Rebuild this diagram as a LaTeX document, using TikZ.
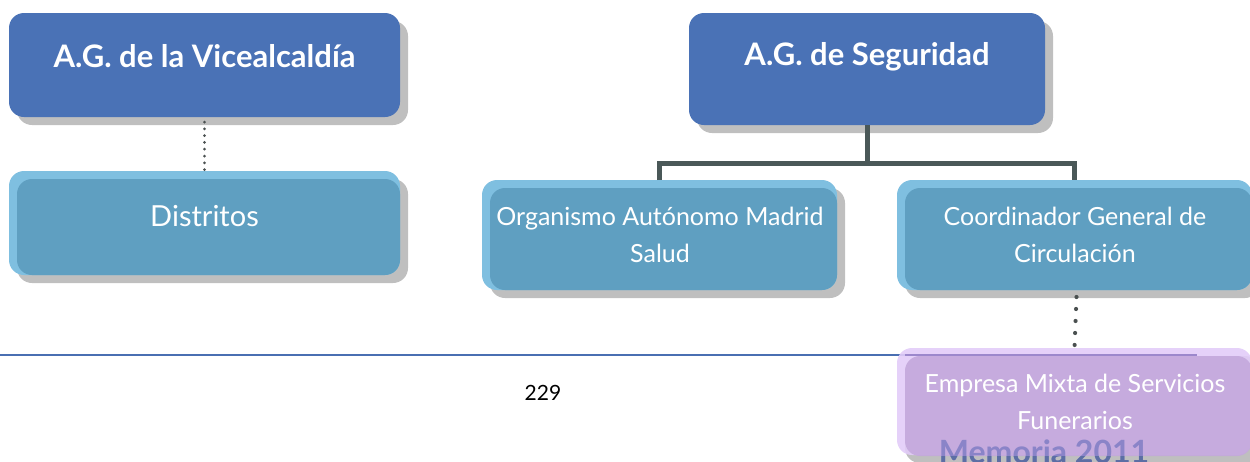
\documentclass[tikz,border=0pt]{standalone}
\usepackage{fontspec}
\setmainfont{Lato}
\usetikzlibrary{calc}
\definecolor{dblue}{HTML}{4A72B6}
\definecolor{lblue}{HTML}{7FBFE0}
\definecolor{mblue}{HTML}{5F9FC1}
\definecolor{shade}{HTML}{BFBFBF}
\definecolor{conn}{HTML}{4A5858}
\definecolor{dotc}{HTML}{4A5050}
\definecolor{plight}{HTML}{E2CCF8}
\definecolor{pdark}{HTML}{C4A8DC}
\definecolor{memc}{HTML}{8A84C8}
\definecolor{memd}{HTML}{5C6EA4}
\definecolor{rule}{HTML}{4A6FB2}
\definecolor{rulein}{HTML}{9C88CC}
\begin{document}
\begin{tikzpicture}[x=1pt,y=-1pt,
  shadowbox/.style={fill=shade,rounded corners=15pt},
  boxshape/.style={rounded corners=15pt,inner sep=0pt,outer sep=0pt,anchor=north west},
  headtxt/.style={text=white,font=\bfseries\fontsize{31}{34}\selectfont,inner sep=0pt},
  bodytxt/.style={text=white,font=\fontsize{25}{37}\selectfont,align=center,inner sep=0pt},
  memotxt/.style={font=\bfseries\fontsize{32}{34}\selectfont,anchor=base,inner sep=0pt},
  busline/.style={draw=conn,line width=5pt},
  dotline/.style={draw=dotc,line width=3pt,line cap=round,dash pattern=on 0pt off 6.8pt},
  bigdots/.style={draw=dotc,line width=4.2pt,line cap=round,dash pattern=on 0pt off 12pt}]
\useasboundingbox (0,0) rectangle (1250,461);

% footer rule and page number
\coordinate (ruleL) at (0,355);
\coordinate (ruleR) at (1197,355);
\draw[rule,line width=2pt] (ruleL) -- (ruleR);
\node[font=\fontsize{21}{24}\selectfont,inner sep=0pt] (page) at (543,393) {229};

% A.G. de la Vicealcaldia
\fill[shadowbox] (17,21) rectangle (408,125);
\node[boxshape,fill=dblue,minimum width=391pt,minimum height=104pt] (vice) at (9,13) {};
\node[headtxt] (vicet) at (204.5,56) {A.G. de la Vicealcaldía};

% Distritos
\fill[shadowbox] (17,179) rectangle (408,283);
\node[boxshape,fill=lblue,minimum width=391pt,minimum height=104pt] (dist) at (9,171) {};
\fill[mblue,rounded corners=15pt] (17,179) rectangle (400,275);
\node[text=white,font=\fontsize{29}{32}\selectfont,inner sep=0pt] (distt) at (204.5,216) {Distritos};
\draw[dotline] ($(vice.south)+(0,5)$) -- (dist.north);

% A.G. de Seguridad
\fill[shadowbox] (697,21) rectangle (1053,133);
\node[boxshape,fill=dblue,minimum width=356pt,minimum height=112pt] (segu) at (689,13) {};
\node[headtxt] (segut) at (867,57) {A.G. de Seguridad};

% Organismo
\fill[shadowbox] (490,188) rectangle (845,298);
\node[boxshape,fill=lblue,minimum width=355pt,minimum height=110pt] (org) at (482,180) {};
\fill[mblue,rounded corners=15pt] (490,188) rectangle (837,290);
\node[bodytxt] (orgt) at (660,235) {Organismo Autónomo Madrid\\Salud};

% Coordinador
\fill[shadowbox] (905,188) rectangle (1260,298);
\node[boxshape,fill=lblue,minimum width=355pt,minimum height=110pt] (coord) at (897,180) {};
\fill[mblue,rounded corners=15pt] (905,188) rectangle (1252,290);
\node[bodytxt] (coordt) at (1075,235) {Coordinador General de\\Circulación};

% bus connector
\coordinate (bus) at ($(segu.south)+(0,38)$);
\draw[busline] (segu.south) -- (bus);
\draw[busline] (org.north) |- (bus) -| (coord.north);

% Empresa Mixta (semi-transparent)
\fill[shadowbox] (905,356) rectangle (1260,463);
\begin{scope}[fill opacity=0.9]
\node[boxshape,fill=plight,minimum width=355pt,minimum height=107pt] (emp) at (897,348) {};
\fill[pdark,rounded corners=15pt] (905,356) rectangle (1252,456);
\end{scope}
\draw[rulein,line width=2pt] (905,355) -- (ruleR);
\node[bodytxt] (empt) at (1075,402) {Empresa Mixta de Servicios\\Funerarios};
\node[memotxt,text=memc] (memo) at (1044,463) {Memoria 2011};
\begin{scope}
\clip (880,456) rectangle (1250,470);
\node[memotxt,text=memd] (memob) at (1044,463) {Memoria 2011};
\end{scope}
\draw[bigdots] ($(coord.south)+(2,7)$) -- (emp.north);
\end{tikzpicture}
\end{document}
